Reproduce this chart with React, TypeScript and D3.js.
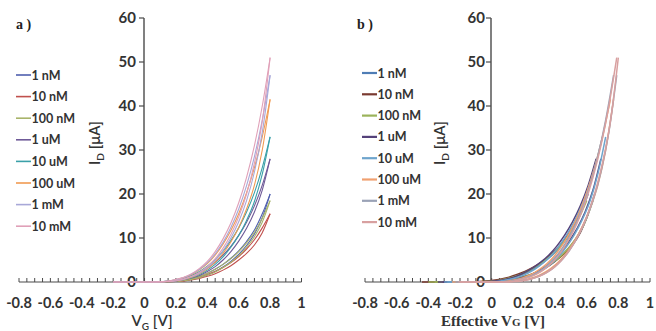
import React from "react";
import * as d3 from "d3";

// ---------- data ----------
const SERIES = ["1 nM", "10 nM", "100 nM", "1 uM", "10 uM", "100 uM", "1 mM", "10 mM"];
const V_GRID = [-0.2, -0.1, 0, 0.1, 0.15, 0.2, 0.25, 0.3, 0.35, 0.4, 0.45, 0.5, 0.55, 0.6, 0.65, 0.7, 0.75, 0.8];

// forward sweeps (µA)
const I_1nM_F = [0, 0, 0, 0.02, 0.1, 0.2, 0.4, 0.8, 1.3, 2.0, 2.9, 4.0, 5.4, 7.1, 9.2, 11.8, 15.5, 20.0];
const I_10nM_F = [0, 0, 0, 0.02, 0.1, 0.2, 0.4, 0.7, 1.1, 1.7, 2.4, 3.3, 4.4, 5.8, 7.5, 9.6, 12.3, 15.5];
const I_100nM_F = [0, 0, 0, 0.02, 0.1, 0.2, 0.4, 0.8, 1.3, 2.0, 2.9, 4.0, 5.3, 6.9, 8.9, 11.3, 14.5, 18.5];
const I_1uM_F = [0, 0, 0, 0.05, 0.2, 0.4, 0.8, 1.4, 2.2, 3.2, 4.5, 6.1, 8.1, 10.6, 13.6, 17.3, 22.0, 28.0];
const I_10uM_F = [0, 0, 0, 0.05, 0.2, 0.5, 0.9, 1.5, 2.4, 3.6, 5.1, 7.0, 9.4, 12.3, 15.9, 20.3, 26.0, 33.0];
const I_100uM_F = [0, 0, 0, 0.05, 0.2, 0.5, 1.0, 1.7, 2.8, 4.2, 6.1, 8.6, 11.7, 15.5, 20.3, 26.0, 33.0, 41.5];
const I_1mM_F = [0, 0, 0, 0.05, 0.2, 0.5, 1.0, 1.8, 2.9, 4.4, 6.4, 9.0, 12.4, 16.6, 21.9, 28.5, 36.8, 47.0];
const I_10mM_F = [0, 0, 0, 0.05, 0.2, 0.6, 1.1, 1.9, 3.1, 4.7, 6.9, 9.8, 13.4, 18.0, 23.8, 31.0, 40.0, 51.0];

// reverse sweeps (µA)
const I_1nM_R = [0, 0, 0, 0.01, 0.05, 0.1, 0.3, 0.6, 1.0, 1.6, 2.4, 3.4, 4.7, 6.3, 8.3, 10.9, 14.6, 20.0];
const I_10nM_R = [0, 0, 0, 0.01, 0.05, 0.1, 0.2, 0.5, 0.8, 1.3, 1.9, 2.7, 3.7, 5.0, 6.5, 8.4, 11.2, 15.5];
const I_100nM_R = [0, 0, 0, 0.01, 0.05, 0.1, 0.3, 0.6, 1.0, 1.6, 2.3, 3.3, 4.5, 6.0, 7.9, 10.3, 13.6, 18.5];
const I_1uM_R = [0, 0, 0, 0.02, 0.1, 0.2, 0.5, 0.9, 1.5, 2.4, 3.5, 5.0, 6.9, 9.3, 12.2, 15.9, 20.9, 28.0];
const I_10uM_R = [0, 0, 0, 0.02, 0.1, 0.3, 0.6, 1.0, 1.7, 2.7, 4.0, 5.7, 7.9, 10.6, 14.0, 18.3, 24.5, 33.0];
const I_100uM_R = [0, 0, 0, 0.02, 0.1, 0.3, 0.6, 1.1, 1.9, 3.0, 4.5, 6.5, 9.1, 12.4, 16.6, 22.0, 30.0, 41.5];
const I_1mM_R = [0, 0, 0, 0.02, 0.1, 0.3, 0.6, 1.2, 2.0, 3.2, 4.9, 7.1, 10.0, 13.7, 18.5, 25.0, 34.0, 47.0];
const I_10mM_R = [0, 0, 0, 0.02, 0.1, 0.3, 0.7, 1.3, 2.2, 3.5, 5.3, 7.7, 10.8, 14.8, 20.0, 27.0, 36.5, 51.0];

const FORWARD = [I_1nM_F, I_10nM_F, I_100nM_F, I_1uM_F, I_10uM_F, I_100uM_F, I_1mM_F, I_10mM_F];
const REVERSE = [I_1nM_R, I_10nM_R, I_100nM_R, I_1uM_R, I_10uM_R, I_100uM_R, I_1mM_R, I_10mM_R];

// threshold shifts applied in panel b (effective V_G = V_G + shift)
const SHIFT_FWD = [-0.19, -0.24, -0.2, -0.14, -0.1, -0.05, -0.03, -0.01];
const SHIFT_REV = [-0.15, -0.19, -0.16, -0.11, -0.08, -0.03, -0.01, 0.0];

const X_TICK_LABELS = ["-0.8", "-0.6", "-0.4", "-0.2", "0", "0.2", "0.4", "0.6", "0.8", "1"];
const Y_TICKS = [0, 10, 20, 30, 40, 50, 60];

const COLORS_A = ["#4f5fae", "#c0504d", "#a8b46a", "#6f5a98", "#3aa0a8", "#f09a52", "#a8a8d8", "#e0a0b8"];
const COLORS_B = ["#4f7db5", "#7a3a30", "#9bb35a", "#55427a", "#6ea4cc", "#f0a070", "#9aa2b6", "#d8a0a0"];

const SANS = "Lato, 'Open Sans', sans-serif";
const SERIF = "'Liberation Serif', 'DejaVu Serif', serif";

type PanelProps = {
  x0: number; x1: number; yAxisX: number; labelGap: number;
  colors: string[]; shiftF: number[] | null; shiftR: number[] | null; lineW: number;
  legendX: number; legendY: number; legendDy: number; legendW: number;
  tag: string; tagX: number; yTitleX: number; xTitle: React.ReactNode;
};

function Panel(p: PanelProps) {
  const x = d3.scaleLinear().domain([-0.8, 1]).range([p.x0, p.x1]);
  const y = d3.scaleLinear().domain([0, 60]).range([282, 18]);
  const line = d3.line<[number, number]>().x(d => x(d[0])).y(d => y(d[1])).curve(d3.curveMonotoneX);
  const minor = d3.range(0, 37).map(i => -0.8 + i * 0.05);
  const axisColor = "#4a4a4a";
  return (
    <g>
      {/* x axis */}
      <line x1={x(-0.8)} x2={x(1)} y1={y(0)} y2={y(0)} stroke={axisColor} strokeWidth={1.2} />
      {minor.map((v, i) => (
        <line key={i} x1={x(v)} x2={x(v)} y1={y(0)} y2={y(0) - 4} stroke={axisColor} strokeWidth={1} />
      ))}
      {X_TICK_LABELS.map(t => (
        <text key={t} x={x(+t)} y={308} textAnchor="middle"
          fontFamily={SANS} fontWeight={700} fontSize={14.5} fill="#333">{t}</text>
      ))}
      {/* y axis */}
      <line x1={p.yAxisX} x2={p.yAxisX} y1={y(60)} y2={y(0)} stroke={axisColor} strokeWidth={1.4} />
      {Y_TICKS.map(t => (
        <g key={t}>
          <line x1={p.yAxisX - 5} x2={p.yAxisX} y1={y(t)} y2={y(t)} stroke={axisColor} strokeWidth={1.2} />
          <text x={p.yAxisX - p.labelGap} y={y(t) + 5} textAnchor="end"
            fontFamily={SANS} fontWeight={700} fontSize={15} fill="#333">{t}</text>
        </g>
      ))}
      {/* curves */}
      {SERIES.map((s, si) => {
        const shf = p.shiftF ? p.shiftF[si] : 0;
        const shr = p.shiftR ? p.shiftR[si] : 0;
        const f = V_GRID.map((v, i) => [v + shf, FORWARD[si][i]] as [number, number]);
        const r = V_GRID.map((v, i) => [v + shr, REVERSE[si][i]] as [number, number]);
        return (
          <g key={s}>
            <path d={line(f) || ""} fill="none" stroke={p.colors[si]} strokeWidth={p.lineW} />
            <path d={line(r) || ""} fill="none" stroke={p.colors[si]} strokeWidth={p.lineW} />
          </g>
        );
      })}
      {/* legend */}
      {SERIES.map((s, si) => {
        const ly = p.legendY + si * p.legendDy;
        return (
          <g key={s}>
            <line x1={p.legendX} x2={p.legendX + 15} y1={ly} y2={ly} stroke={p.colors[si]} strokeWidth={p.legendW} />
            <text x={p.legendX + 15.5} y={ly + 4.5}
              fontFamily={SANS} fontWeight={700} fontSize={12.5} fill="#333">{s}</text>
          </g>
        );
      })}
      {/* tag */}
      <text x={p.tagX} y={29} fontFamily={SERIF} fontWeight={700} fontSize={14} fill="#222">{p.tag}</text>
      {/* y title */}
      <text transform={`translate(${p.yTitleX},${143}) rotate(-90)`} textAnchor="middle"
        fontFamily={SANS} fontWeight={600} fontSize={15} fill="#333">
        I<tspan fontSize={10} dy={4}>D</tspan><tspan dy={-4}> [μA]</tspan>
      </text>
      {p.xTitle}
    </g>
  );
}

export default function App() {
  return (
    <svg width={656} height={331} style={{ position: "absolute", left: 0, top: 0, background: "#fff" }}>
      <rect width={656} height={331} fill="#fff" />
      <Panel x0={19} x1={301.5} yAxisX={144} labelGap={8} colors={COLORS_A} shiftF={null} shiftR={null} lineW={1.1}
        legendX={16} legendY={75} legendDy={21.6} legendW={1.6} tag="a )" tagX={16} yTitleX={100}
        xTitle={
          <text x={152} y={326} textAnchor="middle" fontFamily={SANS} fontWeight={600} fontSize={15} fill="#333">
            V<tspan fontSize={10} dy={4}>G</tspan><tspan dy={-4}> [V]</tspan>
          </text>
        } />
      <Panel x0={365} x1={650} yAxisX={491} labelGap={6} colors={COLORS_B} shiftF={SHIFT_FWD} shiftR={SHIFT_REV} lineW={1.5}
        legendX={362} legendY={73} legendDy={21.3} legendW={2.2} tag="b )" tagX={357} yTitleX={445}
        xTitle={
          <text x={493} y={326} textAnchor="middle" fontFamily={SERIF} fontWeight={700} fontSize={15} fill="#333">
            Effective V<tspan fontSize={11}>G</tspan> [V]
          </text>
        } />
    </svg>
  );
}
